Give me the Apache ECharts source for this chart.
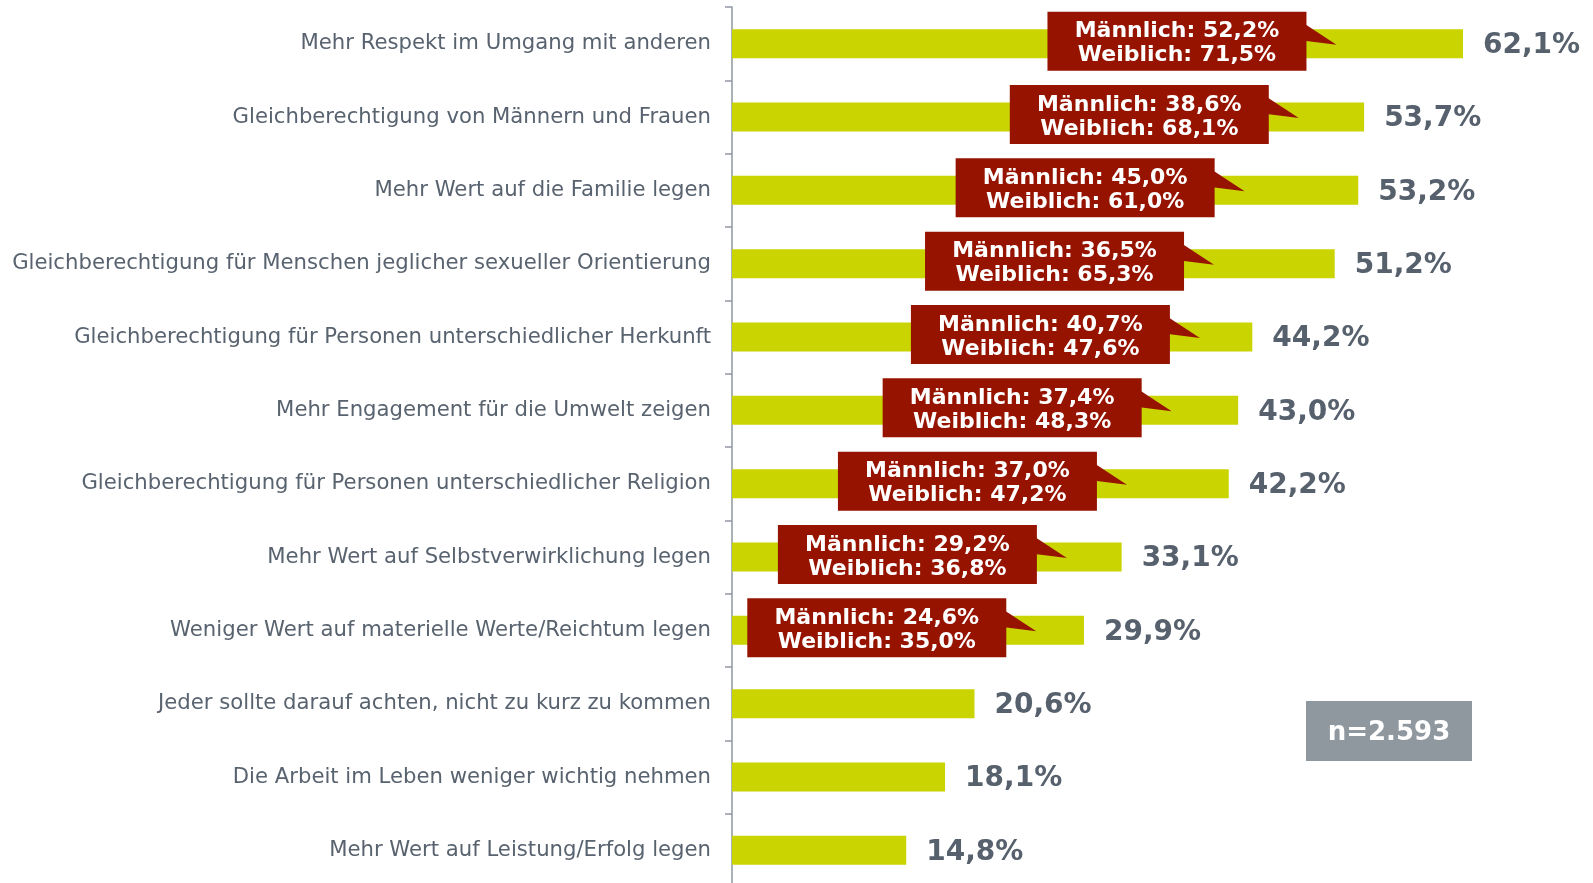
<!DOCTYPE html>
<html>
<head>
<meta charset="utf-8">
<script src="https://cdn.jsdelivr.net/npm/echarts@6/dist/echarts.min.js"></script>
<style>
  html, body { margin: 0; padding: 0; background: #ffffff; }
  #main { width: 1593px; height: 883px; }
</style>
</head>
<body>
<div id="main"></div>
<script>
// Kategorien (von oben nach unten)
const categories = [
    "Mehr Respekt im Umgang mit anderen",
    "Gleichberechtigung von Männern und Frauen",
    "Mehr Wert auf die Familie legen",
    "Gleichberechtigung für Menschen jeglicher sexueller Orientierung",
    "Gleichberechtigung für Personen unterschiedlicher Herkunft",
    "Mehr Engagement für die Umwelt zeigen",
    "Gleichberechtigung für Personen unterschiedlicher Religion",
    "Mehr Wert auf Selbstverwirklichung legen",
    "Weniger Wert auf materielle Werte/Reichtum legen",
    "Jeder sollte darauf achten, nicht zu kurz zu kommen",
    "Die Arbeit im Leben weniger wichtig nehmen",
    "Mehr Wert auf Leistung/Erfolg legen"
];
// Gesamtwerte in %
const totals = [62.1, 53.7, 53.2, 51.2, 44.2, 43.0, 42.2, 33.1, 29.9, 20.6, 18.1, 14.8];
// Männlich / Weiblich (nur die ersten 9 Kategorien)
const male = [52.2, 38.6, 45.0, 36.5, 40.7, 37.4, 37.0, 29.2, 24.6];
const female = [71.5, 68.1, 61.0, 65.3, 47.6, 48.3, 47.2, 36.8, 35.0];
const sampleText = "n=2.593";

// Lage der Sprechblasen (Mitte, in Achseneinheiten %)
const calloutX = [37.8, 34.6, 30.0, 27.4, 26.2, 23.8, 20.0, 14.9, 12.3];

const FONT = '"DejaVu Sans", Verdana, sans-serif';

function fmt(v) {
    return v.toFixed(1).replace('.', ',') + '%';
}

let calloutData = [];
for (let i = 0; i < male.length; i++) {
    calloutData.push([calloutX[i], i, male[i], female[i]]);
}

let myChart = echarts.init(document.getElementById('main'));
let option = {
    animation: false,
    backgroundColor: '#ffffff',
    grid: {
        left: 732,
        top: 7,
        width: 824,
        height: 880,
        containLabel: false,
        outerBoundsMode: 'none'
    },
    xAxis: {
        type: 'value',
        min: 0,
        max: 70,
        show: false
    },
    yAxis: {
        type: 'category',
        inverse: true,
        data: categories,
        axisLine: {
            show: true,
            lineStyle: { color: '#8e98a2', width: 1.5 }
        },
        axisTick: {
            show: true,
            length: 7,
            lineStyle: { color: '#8e98a2', width: 1.5 }
        },
        splitLine: { show: false },
        axisLabel: {
            color: '#58636f',
            fontSize: 21.2,
            fontFamily: FONT,
            margin: 21,
            padding: [8, 0, 0, 0]
        }
    },
    series: [
        {
            type: 'bar',
            data: totals,
            barWidth: 29,
            itemStyle: { color: '#cad400' },
            label: {
                show: true,
                position: 'right',
                distance: 20,
                offset: [0, 2],
                color: '#56616d',
                fontSize: 28,
                fontWeight: 'bold',
                fontFamily: FONT,
                formatter: function (p) {
                    return fmt(p.value);
                }
            },
            z: 2
        },
        {
            type: 'custom',
            data: calloutData,
            encode: { x: 0, y: 1 },
            z: 5,
            renderItem: function (params, api) {
                const c = api.coord([api.value(0), api.value(1)]);
                const w = 259, h = 59;
                const x0 = c[0] - w / 2;
                const y0 = c[1] - 2.5 - h / 2;
                const xr = x0 + w;
                return {
                    type: 'group',
                    children: [
                        {
                            type: 'polygon',
                            shape: { points: [[xr - 2, y0 + 12], [xr + 30, y0 + 33], [xr - 2, y0 + 29]] },
                            style: { fill: '#961300' }
                        },
                        {
                            type: 'rect',
                            shape: { x: x0, y: y0, width: w, height: h },
                            style: { fill: '#961300' }
                        },
                        {
                            type: 'text',
                            style: {
                                x: c[0],
                                y: y0 + h / 2 + 2.5,
                                text: 'Männlich: ' + fmt(api.value(2)) + '\nWeiblich: ' + fmt(api.value(3)),
                                align: 'center',
                                verticalAlign: 'middle',
                                fill: '#ffffff',
                                fontSize: 22,
                                fontWeight: 'bold',
                                fontFamily: FONT,
                                lineHeight: 24
                            }
                        }
                    ]
                };
            }
        }
    ],
    graphic: [
        {
            type: 'group',
            left: 1306,
            top: 701,
            children: [
                {
                    type: 'rect',
                    shape: { x: 0, y: 0, width: 166, height: 60 },
                    style: { fill: '#8f979f' }
                },
                {
                    type: 'text',
                    style: {
                        x: 83,
                        y: 32,
                        text: sampleText,
                        align: 'center',
                        verticalAlign: 'middle',
                        fill: '#ffffff',
                        fontSize: 26,
                        fontWeight: 'bold',
                        fontFamily: FONT
                    }
                }
            ]
        }
    ]
};
myChart.setOption(option);

window.addEventListener('resize', function () {
    myChart.resize();
});
</script>
</body>
</html>
